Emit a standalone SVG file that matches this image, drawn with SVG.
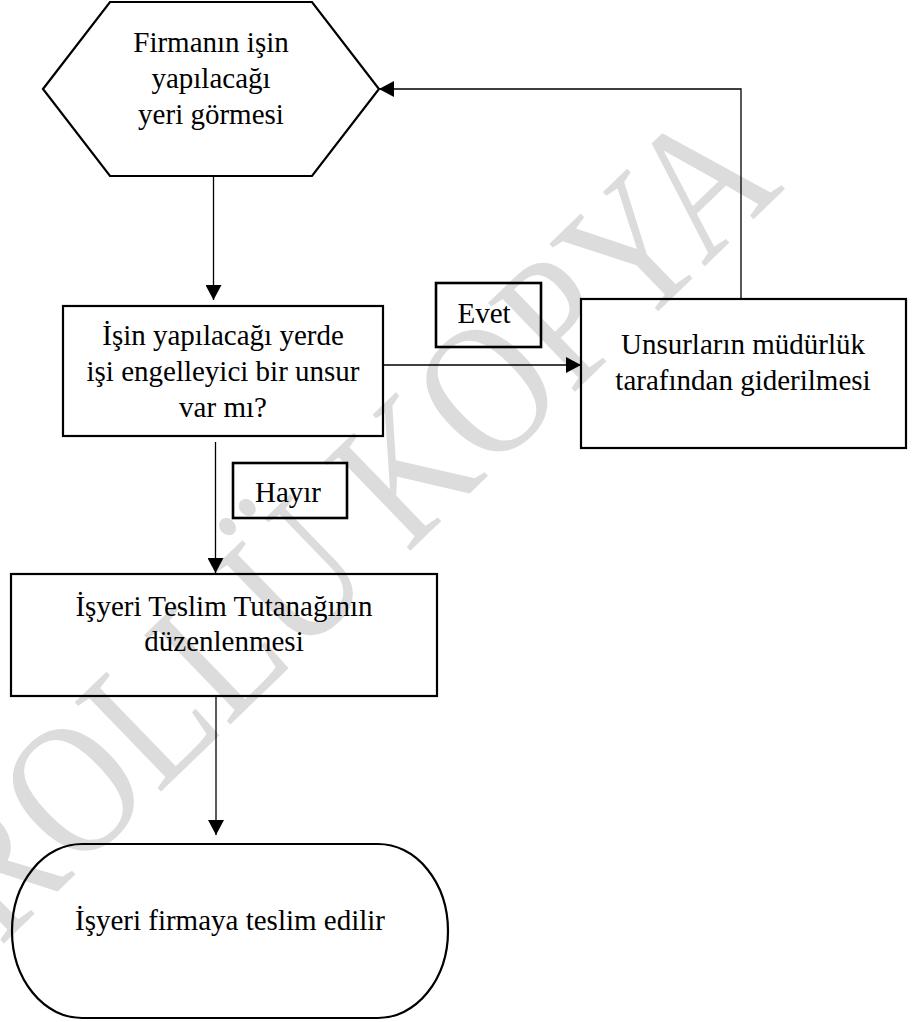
<svg xmlns="http://www.w3.org/2000/svg" width="922" height="1022" viewBox="0 0 922 1022">
<style>
.shape{fill:none;stroke:#000;stroke-width:2.2}
.lbl{fill:none;stroke:#000;stroke-width:2.6}
.conn{fill:none;stroke:#000;stroke-width:1.3}
.t{font-family:"Liberation Serif","Times New Roman",serif;font-size:29px;fill:#000;text-anchor:middle}
.wm{font-family:"Liberation Serif","Times New Roman",serif;font-size:158px;fill:#dcdcdc;text-anchor:middle}
</style>
<defs>
<marker id="ah" viewBox="0 0 15 16" refX="15" refY="8" markerWidth="15" markerHeight="16" markerUnits="userSpaceOnUse" orient="auto">
<path d="M0,0 L15,8 L0,16 Z" fill="#000"/>
</marker>
</defs>
<rect width="922" height="1022" fill="#fff"/>
<text class="wm" x="0" y="0" transform="translate(235,720) rotate(-44) scale(1,1.2)">KONTROLLÜ KOPYA</text>

<g id="connectors">
<path class="conn" d="M213.5,176 L213.5,300" marker-end="url(#ah)"/>
<path class="conn" d="M383,365 L581,365" marker-end="url(#ah)"/>
<path class="conn" d="M741,299 L741,89 L379,89" marker-end="url(#ah)"/>
<path class="conn" d="M215.5,442 L215.5,573" marker-end="url(#ah)"/>
<path class="conn" d="M216,696 L216,835" marker-end="url(#ah)"/>
</g>

<g id="n1">
<polygon class="shape" points="43,89 110,2 312,2 379,89 312,176 110,176"/>
<text class="t" x="211" y="52">Firmanın işin</text>
<text class="t" x="211" y="88">yapılacağı</text>
<text class="t" x="211" y="124">yeri görmesi</text>
</g>

<g id="n2">
<rect class="shape" x="63" y="306" width="320" height="130"/>
<text class="t" x="223" y="345">İşin yapılacağı yerde</text>
<text class="t" x="223" y="381">işi engelleyici bir unsur</text>
<text class="t" x="223" y="417">var mı?</text>
</g>

<g id="n3">
<rect class="shape" x="581" y="299" width="325" height="149"/>
<text class="t" x="743" y="354">Unsurların müdürlük</text>
<text class="t" x="743" y="390">tarafından giderilmesi</text>
</g>

<g id="lbl-evet">
<rect class="lbl" x="436" y="283" width="105" height="64"/>
<text class="t" x="484" y="323">Evet</text>
</g>

<g id="lbl-hayir">
<rect class="lbl" x="233" y="463" width="114" height="55"/>
<text class="t" x="288" y="502">Hayır</text>
</g>

<g id="n4">
<rect class="shape" x="11" y="574" width="426" height="122"/>
<text class="t" x="224" y="616">İşyeri Teslim Tutanağının</text>
<text class="t" x="224" y="651">düzenlenmesi</text>
</g>

<g id="n5">
<rect class="shape" x="12" y="844" width="436" height="174" rx="70" ry="87"/>
<text class="t" x="230" y="930">İşyeri firmaya teslim edilir</text>
</g>
</svg>
